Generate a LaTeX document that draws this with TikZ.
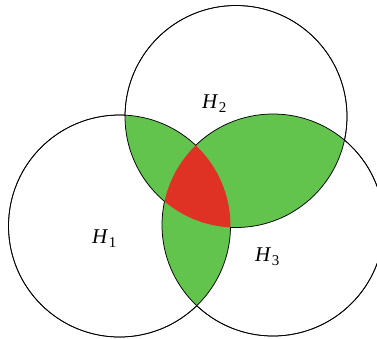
\documentclass[tikz,border=0pt]{standalone}
\usepackage{fontspec}
\setmainfont{Liberation Serif}
\definecolor{lensgreen}{RGB}{98,196,76}
\definecolor{corered}{RGB}{224,50,36}
\newcommand{\hlab}[1]{{\fontsize{21}{21}\selectfont\textit{H}}\kern0.5pt\raisebox{-4pt}{\fontsize{15}{15}\selectfont #1}}
\begin{document}
\begin{tikzpicture}[x=1pt,y=-1pt,
  ring/.style={draw=black,line width=0.75pt},
  lbl/.style={inner sep=0pt,anchor=base west}]
\useasboundingbox (0,0) rectangle (377,338);
\clip (0,0) rectangle (377,338);
\coordinate (c1) at (119.5,226);
\coordinate (c2) at (236,116.5);
\coordinate (c3) at (273,225);
\def\ra{111pt}
% green lenses
\begin{scope}\clip (c1) circle[radius=\ra]; \fill[lensgreen] (c2) circle[radius=\ra];\end{scope}
\begin{scope}\clip (c1) circle[radius=\ra]; \fill[lensgreen] (c3) circle[radius=\ra];\end{scope}
\begin{scope}\clip (c2) circle[radius=\ra]; \fill[lensgreen] (c3) circle[radius=\ra];\end{scope}
% red core
\begin{scope}\clip (c1) circle[radius=\ra]; \clip (c2) circle[radius=\ra]; \fill[corered] (c3) circle[radius=\ra];\end{scope}
% outlines, omitted inside the other two circles' lens
\begin{scope}[even odd rule]\clip (-50,-50) rectangle (450,450) (c2) circle[radius=\ra]; \draw[ring] (c1) circle[radius=\ra];\end{scope}
\begin{scope}[even odd rule]\clip (-50,-50) rectangle (450,450) (c3) circle[radius=\ra]; \draw[ring] (c1) circle[radius=\ra];\end{scope}
\begin{scope}[even odd rule]\clip (-50,-50) rectangle (450,450) (c1) circle[radius=\ra]; \draw[ring] (c2) circle[radius=\ra];\end{scope}
\begin{scope}[even odd rule]\clip (-50,-50) rectangle (450,450) (c3) circle[radius=\ra]; \draw[ring] (c2) circle[radius=\ra];\end{scope}
\begin{scope}[even odd rule]\clip (-50,-50) rectangle (450,450) (c1) circle[radius=\ra]; \draw[ring] (c3) circle[radius=\ra];\end{scope}
\begin{scope}[even odd rule]\clip (-50,-50) rectangle (450,450) (c2) circle[radius=\ra]; \draw[ring] (c3) circle[radius=\ra];\end{scope}
% labels
\node[lbl] (l1) at (92,243) {\hlab{1}};
\node[lbl] (l2) at (202,108) {\hlab{2}};
\node[lbl] (l3) at (255,261) {\hlab{3}};
\end{tikzpicture}
\end{document}
